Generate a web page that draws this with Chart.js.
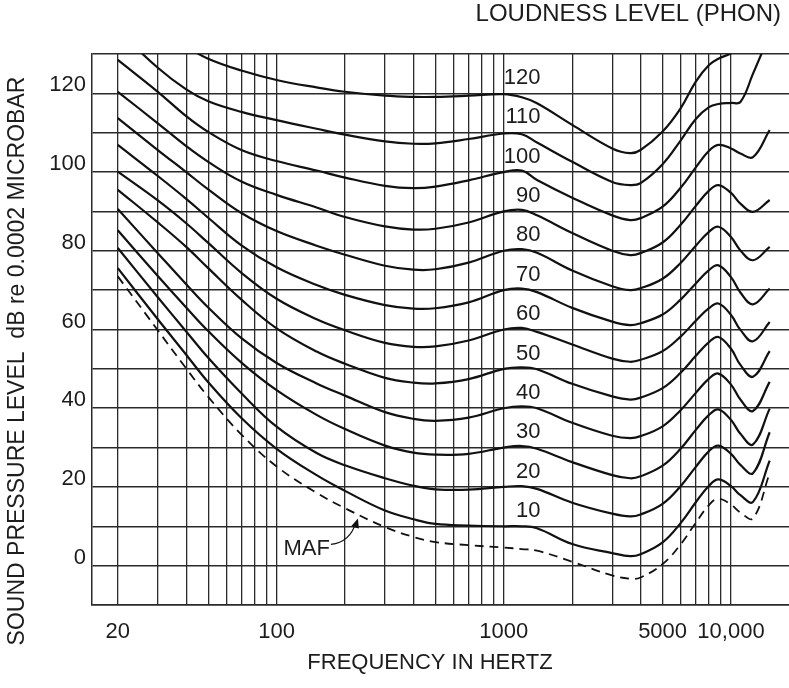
<!DOCTYPE html>
<html>
<head>
<meta charset="utf-8">
<title>Equal loudness contours</title>
<script src="https://cdn.jsdelivr.net/npm/chart.js@4/dist/chart.umd.min.js"></script>
<style>
  html, body { margin: 0; padding: 0; background: #fff; }
  #wrap { width: 789px; height: 688px; }
</style>
</head>
<body>
<div id="wrap"><canvas id="loudnessChart" width="789" height="688"></canvas></div>
<script>
// sample frequencies (Hz) shared by every contour
const frequencies = [20, 30, 40, 50, 70, 100, 150, 200, 300, 400, 500, 700, 1000, 1200, 1400,
    2000, 3000, 3600, 4000, 5000, 6000, 7000, 8000, 8800, 10000, 11000, 12500, 14800];

// sound pressure level (dB) along each loudness contour
const phon120 = [null, 138, 132, 128.8, 125.8, 123.4, 121.5, 120.4, 119.4, 119.1, 119.1, 119.4, 119.8, 119, 117.5,
    112, 106, 104.8, 105.6, 110.3, 116.2, 123, 127.2, 128.8, 130.2, 132, null, null];
const phon110 = [136, 126.5, 121, 118, 115.3, 113.2, 111, 109.5, 107.8, 107.2, 107.3, 108.4, 109.8, 109.6, 107.5,
    102.6, 97.5, 96.7, 97.2, 102, 108, 113.5, 116.5, 117.3, 117.6, 117.8, 125, 135];
const phon100 = [128.5, 120.4, 114.2, 110.2, 105.6, 102.8, 100.4, 98.6, 96.5, 95.9, 96.3, 97.9, 100, 100.4, 98,
    93.5, 89, 87.8, 88.3, 91.2, 96, 101.2, 105.4, 106.9, 106, 104.7, 103.8, 110.7];
const phon90 = [120.4, 112.4, 106.6, 102.6, 97.6, 94.2, 91, 88.6, 86.2, 85.4, 85.6, 87.2, 90, 90.4, 89,
    84.5, 80, 78.9, 79.4, 82.1, 86.6, 91.4, 95.3, 96.7, 94.7, 92, 89.9, 92.9];
const phon80 = [113.7, 105.6, 100, 95.6, 89.6, 85, 81.3, 79, 76.2, 75.2, 75.3, 77, 80, 80.4, 79.5,
    75, 71, 70, 70.5, 72.9, 76.9, 81.3, 84.8, 86.1, 83.5, 80.1, 77.6, 81];
const phon70 = [106.9, 99, 93.2, 88.4, 81.4, 75.8, 71.3, 68.8, 66.2, 65.3, 65.4, 66.9, 70, 70.4, 69.5,
    65.5, 62, 61.1, 61.6, 63.8, 67.6, 71.7, 75.1, 76.3, 73.3, 69.4, 66.4, 70.4];
const phon60 = [100.1, 92.8, 87, 82, 74.4, 67.8, 62.6, 59.8, 56.6, 55.6, 55.7, 57.2, 60, 60.4, 59.4,
    56.2, 52.6, 51.8, 52.3, 54.5, 58.2, 62.2, 65.4, 66.6, 63.7, 59.9, 57, 61.9];
const phon50 = [95.5, 87.2, 81, 75.6, 67.6, 60.3, 54.4, 51.3, 47.7, 46.5, 46.3, 47.4, 50, 50.4, 49.9,
    46.2, 43, 42.2, 42.7, 45.1, 49, 53.3, 56.8, 58.1, 55.1, 51, 48, 54.5];
const phon40 = [90.6, 79.4, 71.5, 65.6, 57.8, 51.5, 46.3, 43.2, 39, 37.3, 36.8, 37.6, 40, 40.5, 40,
    36.3, 33, 32.4, 32.9, 35.4, 39.5, 43.9, 47.5, 48.8, 46, 42.2, 39.3, 46.7];
const phon30 = [85.2, 73.6, 65.6, 59.6, 51.6, 44.6, 38.3, 34.7, 30.5, 28.7, 28.2, 28.4, 30, 30.4, 29.7,
    26.3, 23, 22.2, 22.7, 25.4, 29.7, 34.5, 38.3, 39.7, 37, 33.5, 30.8, 39.9];
const phon20 = [80.7, 68.2, 59.5, 52.8, 43.8, 35.3, 28.6, 25.5, 22.2, 20.3, 19.4, 19.3, 20, 20.2, 19.5,
    16, 13.2, 12.5, 13, 15.7, 20.2, 25.1, 29.1, 30.5, 28.4, 25.6, 23.5, 33.9];
const phon10 = [75.6, 62.6, 53.6, 46.6, 37.5, 29.7, 23, 19, 14, 11.8, 10.6, 10.2, 10, 10, 9.5,
    5.5, 3.2, 2.4, 2.9, 5.9, 10.8, 16.1, 20.3, 21.9, 20.2, 17.9, 16.2, 26.7];
const mafCurve = [73.5, 59.8, 50.1, 42.9, 33.3, 25.2, 18.5, 14.6, 9.8, 7.3, 6, 5.2, 4.6, 4.2, 3.8,
    1, -2.5, -3.3, -3, 0.4, 5.4, 10.9, 15.4, 17, 15.5, 13.5, 12, 23.5];

const phonLevels = [120, 110, 100, 90, 80, 70, 60, 50, 40, 30, 20, 10];
const phonCurves = [phon120, phon110, phon100, phon90, phon80, phon70, phon60, phon50, phon40, phon30, phon20, phon10];

// axis ticks
const gridFrequencies = [20, 30, 40, 50, 60, 70, 80, 90, 100, 200, 300, 400, 500, 600, 700, 800, 900,
    1000, 2000, 3000, 4000, 5000, 6000, 7000, 8000, 9000, 10000];
const freqLabelValues = [20, 100, 1000, 5000, 10000];
const freqLabelTexts = ['20', '100', '1000', '5000', '10,000'];
const levelLabelValues = [0, 20, 40, 60, 80, 100, 120];

const INK = '#111';
const GRID = '#2a2a2a';
const TEXT = '#1c1c1c';
const FONT = '"Liberation Sans", Arial, sans-serif';

// phon numbers sit just above each contour, right edge near 1450 Hz
const phonLabelFreq = 1450;
const phonLabelLift = 3.9;

const chartText = {
    id: 'chartText',
    afterDraw(chart) {
        const { ctx } = chart;
        const x = chart.scales.x;
        const y = chart.scales.y;
        ctx.save();
        ctx.fillStyle = TEXT;
        ctx.textBaseline = 'middle';

        ctx.font = '24px ' + FONT;
        ctx.textAlign = 'right';
        ctx.fillText('LOUDNESS LEVEL (PHON)', 781, 14);

        ctx.font = '22px ' + FONT;
        phonLevels.forEach(level => {
            ctx.fillText(String(level), x.getPixelForValue(phonLabelFreq), y.getPixelForValue(level + phonLabelLift));
        });

        ctx.textAlign = 'center';
        ctx.fillText('FREQUENCY IN HERTZ', 430, 663);

        // MAF note with its arrow
        const tipX = x.getPixelForValue(228);
        const tipY = y.getPixelForValue(12);
        ctx.textAlign = 'right';
        ctx.fillText('MAF', tipX - 28, tipY + 31);
        ctx.strokeStyle = INK;
        ctx.lineWidth = 1.2;
        ctx.beginPath();
        ctx.moveTo(tipX - 27, tipY + 26);
        ctx.quadraticCurveTo(tipX - 8, tipY + 24, tipX - 2, tipY + 4);
        ctx.stroke();
        ctx.beginPath();
        ctx.moveTo(tipX, tipY);
        ctx.lineTo(tipX - 7, tipY + 8);
        ctx.lineTo(tipX + 1, tipY + 10);
        ctx.closePath();
        ctx.fillStyle = INK;
        ctx.fill();

        // vertical axis title
        ctx.fillStyle = TEXT;
        ctx.font = '23px ' + FONT;
        ctx.translate(18, 361);
        ctx.rotate(-Math.PI / 2);
        ctx.textAlign = 'center';
        ctx.fillText('SOUND PRESSURE LEVEL  dB re 0.0002 MICROBAR', 0, 0);
        ctx.restore();
    }
};

function buildDatasets() {
    const datasets = phonCurves.map((curve, i) => ({
        label: phonLevels[i] + ' phon',
        data: curve,
        borderColor: INK,
        borderWidth: 2.2,
        fill: false
    }));
    datasets.push({
        label: 'MAF',
        data: mafCurve,
        borderColor: INK,
        borderWidth: 1.8,
        borderDash: [9, 6],
        fill: false
    });
    return datasets;
}

function renderLoudnessChart() {
    Chart.defaults.font.family = FONT;
    const ctx = document.getElementById('loudnessChart').getContext('2d');
    new Chart(ctx, {
        type: 'line',
        data: {
            labels: frequencies,
            datasets: buildDatasets()
        },
        options: {
            responsive: false,
            animation: false,
            devicePixelRatio: 1,
            spanGaps: false,
            layout: { padding: { top: 54, right: 0, bottom: 0, left: 0 } },
            elements: {
                point: { radius: 0 },
                line: { tension: 0.4 }
            },
            plugins: {
                legend: { display: false },
                tooltip: { enabled: false }
            },
            scales: {
                x: {
                    type: 'logarithmic',
                    min: 15.4,
                    max: 18000,
                    bounds: 'data',
                    afterBuildTicks: axis => {
                        axis.ticks = gridFrequencies.map(v => ({ value: v }));
                    },
                    afterFit: axis => { axis.height = 83; },
                    grid: { color: GRID, lineWidth: 1.3, drawTicks: false },
                    border: { color: GRID, width: 1.5 },
                    ticks: {
                        autoSkip: false,
                        maxRotation: 0,
                        padding: 14,
                        color: TEXT,
                        font: { size: 22 },
                        callback: value => {
                            const i = freqLabelValues.indexOf(value);
                            return i >= 0 ? freqLabelTexts[i] : '';
                        }
                    }
                },
                y: {
                    min: -10,
                    max: 130,
                    afterFit: axis => { axis.width = 92; },
                    grid: { color: GRID, lineWidth: 1.5, drawTicks: false },
                    border: { color: GRID, width: 1.5 },
                    ticks: {
                        stepSize: 10,
                        padding: 6,
                        labelOffset: -8,
                        color: TEXT,
                        font: { size: 22 },
                        callback: value => levelLabelValues.includes(value) ? String(value) : ''
                    }
                }
            }
        },
        plugins: [chartText]
    });
}

document.addEventListener('DOMContentLoaded', renderLoudnessChart);
</script>
</body>
</html>
